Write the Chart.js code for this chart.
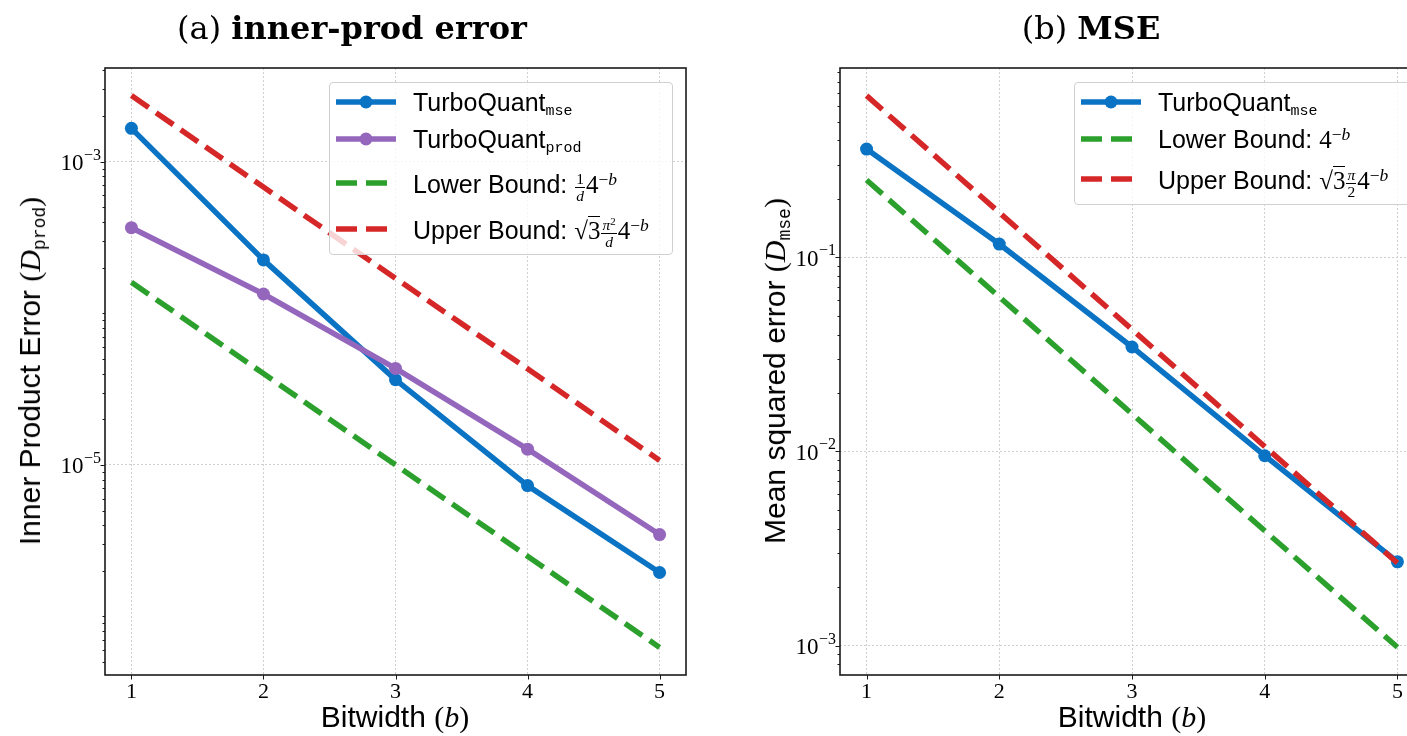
<!DOCTYPE html>
<html lang="en">
<head>
  <meta charset="UTF-8" />
  <title>TurboQuant error vs bitwidth</title>
  <script src="https://cdn.jsdelivr.net/npm/chart.js"></script>
  <style>
    html, body { margin: 0; padding: 0; overflow: hidden; background: #fff; }
    .stage { position: relative; width: 1407px; height: 736px; overflow: hidden; }
    canvas { position: absolute; top: 0; }
    #prodChart { left: 0; }
    #mseChart { left: 707px; }

    .title { position: absolute; top: 12px; font-family: 'DejaVu Serif', serif; font-size: 32px; line-height: 32px; white-space: nowrap; transform: translateX(-50%); color: #000; }
    .title b { font-weight: bold; }
    .xlabel { position: absolute; top: 702px; font-family: 'Liberation Sans', Arial, sans-serif; font-size: 30px; line-height: 30px; white-space: nowrap; transform: translateX(-50%); color: #000; }
    .ylabel { position: absolute; font-family: 'Liberation Sans', Arial, sans-serif; font-size: 30px; line-height: 30px; white-space: nowrap; transform: translate(-50%, -50%) rotate(-90deg); color: #000; }

    .m { font-family: 'Liberation Serif', serif; }
    .m i { font-style: italic; }
    .tt { font-family: 'Liberation Mono', monospace; font-size: 0.6em; vertical-align: -0.25em; line-height: 0; }
    .m sup { font-size: 0.7em; vertical-align: 0.45em; line-height: 0; }
    .frac { display: inline-block; vertical-align: middle; font-size: 0.62em; line-height: 1; text-align: center; margin: 0 1px; }
    .frac > span { display: block; padding: 0 1px; }
    .frac > span:first-child { border-bottom: 1px solid #000; }
    .frac sup { font-size: 0.7em; vertical-align: 0.5em; }
    .rad { border-top: 1.3px solid #000; }

    .legend { position: absolute; background: rgba(255,255,255,0.8); border: 1px solid #d0d0d0; border-radius: 4px; box-sizing: border-box; }
    .legend .row { position: absolute; left: 0; right: 0; height: 0; }
    .legend svg { position: absolute; left: 6px; top: -8px; }
    .legend .txt { position: absolute; left: 83px; top: -12px; font-family: 'Liberation Sans', Arial, sans-serif; font-size: 25px; line-height: 25px; white-space: nowrap; color: #000; }
  </style>
</head>
<body>
  <div class="stage">
    <canvas id="prodChart" width="707" height="736"></canvas>
    <canvas id="mseChart" width="740" height="736"></canvas>

    <div class="title" style="left:352px;">(a) <b>inner-prod error</b></div>
    <div class="title" style="left:1091px;">(b) <b>MSE</b></div>

    <div class="xlabel" style="left:395px;">Bitwidth <span class="m">(<i>b</i>)</span></div>
    <div class="xlabel" style="left:1132px;">Bitwidth <span class="m">(<i>b</i>)</span></div>

    <div class="ylabel" style="left:30px; top:371px;">Inner Product Error <span class="m">(<i>D</i><span class="tt">prod</span>)</span></div>
    <div class="ylabel" style="left:775px; top:371px;">Mean squared error <span class="m">(<i>D</i><span class="tt">mse</span>)</span></div>

    <div class="legend" id="prodLegend" style="left:329px; top:82px; width:344px; height:173px;"></div>
    <div class="legend" id="mseLegend" style="left:1074px; top:82px; width:340px; height:123px;"></div>
  </div>

  <script>
    // bitwidth b on the x axis
    const bitwidths = [1, 2, 3, 4, 5];

    // (a) inner-product error
    const prodTurboMse  = [1.66e-3, 2.25e-4, 3.65e-5, 7.3e-6, 1.95e-6];
    const prodTurboProd = [3.67e-4, 1.34e-4, 4.33e-5, 1.27e-5, 3.47e-6];
    const prodLower     = [1.6e-4, 4.0e-5, 1.0e-5, 2.5e-6, 6.25e-7];
    const prodUpper     = [2.73e-3, 6.8e-4, 1.7e-4, 4.3e-5, 1.07e-5];

    // (b) MSE
    const mseTurboMse = [0.361, 0.117, 0.0345, 0.0095, 0.0027];
    const mseLower    = [0.25, 0.0625, 0.0156, 0.0039, 0.00098];
    const mseUpper    = [0.68, 0.17, 0.0425, 0.0106, 0.00266];

    // labelled ticks
    const xTicks = [1, 2, 3, 4, 5];
    const prodYTicks = [1e-3, 1e-5];
    const mseYTicks = [1e-1, 1e-2, 1e-3];

    // axis limits (matplotlib autoscale with 5% margin in log space)
    const xRange = [0.8, 5.2];
    const prodYRange = [4.11e-7, 4.15e-3];
    const mseYRange = [7.05e-4, 0.944];

    const prodLabels = [
      'TurboQuant<span class="tt">mse</span>',
      'TurboQuant<span class="tt">prod</span>',
      'Lower Bound: <span class="m"><span class="frac"><span>1</span><span><i>d</i></span></span>4<sup>−<i>b</i></sup></span>',
      'Upper Bound: <span class="m">√<span class="rad">3</span><span class="frac"><span><i>π</i><sup>2</sup></span><span><i>d</i></span></span>4<sup>−<i>b</i></sup></span>'
    ];
    const mseLabels = [
      'TurboQuant<span class="tt">mse</span>',
      'Lower Bound: <span class="m">4<sup>−<i>b</i></sup></span>',
      'Upper Bound: <span class="m">√<span class="rad">3</span><span class="frac"><span><i>π</i></span><span>2</span></span>4<sup>−<i>b</i></sup></span>'
    ];

    const BLUE = '#0a73c4';
    const PURPLE = '#9467bd';
    const GREEN = '#2ca02c';
    const RED = '#d62728';
    const DASH = [21, 9];

    function isLabelled(v, list) {
      return list.some(t => Math.abs(Math.log10(v) - Math.log10(t)) < 1e-6);
    }
    function logTicks(min, max) {
      const out = [];
      for (let k = Math.floor(Math.log10(min)); k <= Math.ceil(Math.log10(max)); k++) {
        for (let m = 1; m <= 9; m++) {
          const v = m * Math.pow(10, k);
          if (v >= min && v <= max) out.push({ value: v });
        }
      }
      return out;
    }

    function series(label, ys, color, dashed, order) {
      return {
        label: label,
        data: bitwidths.map((b, i) => ({ x: b, y: ys[i] })),
        borderColor: color,
        backgroundColor: color,
        borderWidth: 5.5,
        borderDash: dashed ? DASH : [],
        borderJoinStyle: 'round',
        pointRadius: dashed ? 0 : 6.5,
        pointHoverRadius: dashed ? 0 : 6.5,
        pointBorderWidth: 0,
        tension: 0,
        order: order
      };
    }

    // frame, outward tick marks and 10^k labels like matplotlib
    const framePlugin = {
      id: 'frame',
      afterDraw(chart) {
        const { ctx, chartArea: a, scales } = chart;
        const labelled = chart.options.plugins.frame.yLabelled;
        ctx.save();
        ctx.strokeStyle = '#1a1a1a';
        ctx.lineWidth = 1;
        ctx.beginPath();
        scales.x.ticks.forEach(t => {
          const px = Math.round(scales.x.getPixelForValue(t.value)) + 0.5;
          ctx.moveTo(px, a.bottom);
          ctx.lineTo(px, a.bottom + 4.5);
        });
        scales.y.ticks.forEach(t => {
          const py = Math.round(scales.y.getPixelForValue(t.value)) + 0.5;
          const len = isLabelled(t.value, labelled) ? 4.5 : 2.5;
          ctx.moveTo(a.left, py);
          ctx.lineTo(a.left - len, py);
        });
        ctx.stroke();
        ctx.lineWidth = 1.6;
        ctx.strokeRect(a.left, a.top, a.right - a.left, a.bottom - a.top);

        // y tick labels: "10" with a raised exponent
        ctx.fillStyle = '#000';
        ctx.textBaseline = 'alphabetic';
        ctx.textAlign = 'right';
        scales.y.ticks.forEach(t => {
          if (!isLabelled(t.value, labelled)) return;
          const py = scales.y.getPixelForValue(t.value);
          const exp = '−' + Math.abs(Math.round(Math.log10(t.value)));
          const xr = a.left - 4;
          ctx.font = '16px "Liberation Serif"';
          const ew = ctx.measureText(exp).width;
          ctx.fillText(exp, xr, py - 2);
          ctx.font = '23px "Liberation Serif"';
          ctx.fillText('10', xr - ew - 0.5, py + 8.5);
        });
        ctx.restore();
      }
    };

    function makeChart(id, datasets, yRange, yLabelled, yWidth, rightPad) {
      return new Chart(document.getElementById(id), {
        type: 'line',
        data: { datasets: datasets },
        plugins: [framePlugin],
        options: {
          responsive: false,
          animation: false,
          events: [],
          layout: { padding: { top: 68, right: rightPad, left: 0, bottom: 0 } },
          plugins: {
            legend: { display: false },
            tooltip: { enabled: false },
            frame: { yLabelled: yLabelled }
          },
          scales: {
            x: {
              type: 'linear',
              min: xRange[0],
              max: xRange[1],
              afterBuildTicks: s => { s.ticks = xTicks.map(v => ({ value: v })); },
              afterFit: s => { s.height = 61; },
              grid: { color: '#cfcfcf', lineWidth: 1, drawTicks: false },
              border: { display: false, dash: [2, 2] },
              ticks: {
                autoSkip: false,
                maxRotation: 0,
                padding: 4,
                color: '#000',
                font: { family: 'Liberation Serif', size: 22 },
                callback: v => String(v)
              }
            },
            y: {
              type: 'logarithmic',
              min: yRange[0],
              max: yRange[1],
              afterBuildTicks: s => { s.ticks = logTicks(yRange[0], yRange[1]); },
              afterFit: s => { s.width = yWidth; },
              grid: {
                color: c => (c.tick && isLabelled(c.tick.value, yLabelled)) ? '#cfcfcf' : 'rgba(0,0,0,0)',
                lineWidth: 1,
                drawTicks: false
              },
              border: { display: false, dash: [2, 2] },
              ticks: { display: false, autoSkip: false }
            }
          }
        }
      });
    }

    const prodChart = makeChart('prodChart', [
      series(prodLabels[0], prodTurboMse, BLUE, false, 4),
      series(prodLabels[1], prodTurboProd, PURPLE, false, 3),
      series(prodLabels[2], prodLower, GREEN, true, 2),
      series(prodLabels[3], prodUpper, RED, true, 1)
    ], prodYRange, prodYTicks, 105, 21);

    const mseChart = makeChart('mseChart', [
      series(mseLabels[0], mseTurboMse, BLUE, false, 3),
      series(mseLabels[1], mseLower, GREEN, true, 2),
      series(mseLabels[2], mseUpper, RED, true, 1)
    ], mseYRange, mseYTicks, 133, 23);

    function buildLegend(elId, chart, rowYs) {
      const el = document.getElementById(elId);
      chart.data.datasets.forEach((ds, i) => {
        const row = document.createElement('div');
        row.className = 'row';
        row.style.top = rowYs[i] + 'px';
        const dash = ds.borderDash.length ? ds.borderDash.join(' ') : 'none';
        const marker = ds.pointRadius ? `<circle cx="30" cy="8" r="${ds.pointRadius}" fill="${ds.borderColor}"/>` : '';
        row.innerHTML = `<svg width="60" height="16"><line x1="0" y1="8" x2="60" y2="8" stroke="${ds.borderColor}" stroke-width="${ds.borderWidth}" stroke-dasharray="${dash}"/>${marker}</svg><span class="txt">${ds.label}</span>`;
        el.appendChild(row);
      });
    }
    buildLegend('prodLegend', prodChart, [19, 56, 100, 146]);
    buildLegend('mseLegend', mseChart, [19, 56, 96]);
  </script>
</body>
</html>
